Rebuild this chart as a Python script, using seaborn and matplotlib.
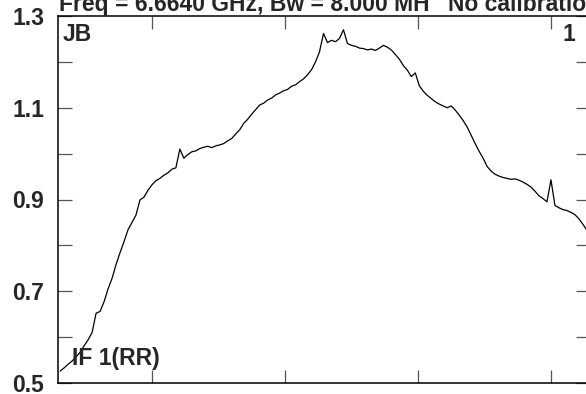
import numpy as np
import pandas as pd
import matplotlib
matplotlib.use("Agg")
import matplotlib.pyplot as plt
import seaborn as sns

# spectrum amplitude, one value every 6 channels starting at channel 62
amplitude = [
    0.526, 0.533, 0.541, 0.548, 0.557, 0.567, 0.581, 0.594, 0.610, 0.652,
    0.656, 0.677, 0.705, 0.728, 0.758, 0.784, 0.808, 0.834, 0.850, 0.866,
    0.899, 0.905, 0.920, 0.932, 0.941, 0.946, 0.953, 0.958, 0.966, 0.969,
    1.010, 0.990, 0.998, 1.004, 1.006, 1.011, 1.014, 1.016, 1.013, 1.017,
    1.019, 1.022, 1.028, 1.033, 1.043, 1.052, 1.066, 1.075, 1.086, 1.096,
    1.106, 1.110, 1.117, 1.121, 1.128, 1.132, 1.137, 1.140, 1.147, 1.150,
    1.157, 1.163, 1.172, 1.183, 1.200, 1.222, 1.262, 1.242, 1.247, 1.244,
    1.251, 1.270, 1.240, 1.236, 1.234, 1.230, 1.229, 1.226, 1.228, 1.225,
    1.230, 1.236, 1.232, 1.226, 1.216, 1.206, 1.192, 1.182, 1.168, 1.176,
    1.148, 1.136, 1.127, 1.120, 1.113, 1.108, 1.104, 1.100, 1.104, 1.095,
    1.084, 1.072, 1.058, 1.040, 1.022, 1.005, 0.990, 0.972, 0.962, 0.955,
    0.951, 0.948, 0.946, 0.944, 0.945, 0.942, 0.938, 0.933, 0.927, 0.918,
    0.908, 0.902, 0.895, 0.943, 0.887, 0.882, 0.878, 0.876, 0.872, 0.867,
    0.858, 0.846, 0.833, 0.825,
]
channels = 62 + 6 * np.arange(len(amplitude))

y_ticks = [0.5, 0.6, 0.7, 0.8, 0.9, 1.0, 1.1, 1.2, 1.3]
y_labels = ["0.5", "", "0.7", "", "0.9", "", "1.1", "", "1.3"]
x_ticks = [200, 400, 600, 800]

title_left = "Freq = 6.6640 GHz, Bw = 8.000 MH"
title_right = "No calibration"

df = pd.DataFrame({"channel": channels, "amp": amplitude})

sns.set_style("white")
plt.rcParams["font.family"] = ["Liberation Sans", "DejaVu Sans"]
plt.rcParams["font.weight"] = "bold"
FS = 16.5

fig = plt.figure(figsize=(5.86, 3.94), dpi=100)
ax = fig.add_axes([57.5 / 586, 11 / 394, 532.5 / 586, 367 / 394])

sns.lineplot(data=df, x="channel", y="amp", ax=ax, color="black",
             linewidth=0.9, estimator=None, sort=False)

ax.set_xlim(58, 858.7)
ax.set_ylim(0.5, 1.3)
ax.set_xlabel("")
ax.set_ylabel("")
ax.set_yticks(y_ticks)
ax.set_yticklabels(y_labels, fontsize=FS, fontweight="bold")
ax.set_xticks(x_ticks)
ax.set_xticklabels([])
ax.tick_params(axis="y", direction="in", length=10, width=0.9, color="#555555",
               left=True, right=True, pad=9.5)
ax.tick_params(axis="x", direction="in", length=9.5, width=0.9, color="#555555",
               bottom=True, top=True)
for side in ["left", "bottom", "top", "right"]:
    ax.spines[side].set_visible(True)
    ax.spines[side].set_color("black")
    ax.spines[side].set_linewidth(1.1)

ax.text(0.010, 0.932, "JB", transform=ax.transAxes, fontsize=FS,
        fontweight="bold", va="baseline", ha="left")
ax.text(0.949, 0.932, "1", transform=ax.transAxes, fontsize=FS,
        fontweight="bold", va="baseline", ha="left")
ax.text(0.027, 0.049, "IF 1(RR)", transform=ax.transAxes, fontsize=FS,
        fontweight="bold", va="baseline", ha="left")

# title sits at the very top edge, partly cut off as in the original plot
fig.text(59 / 586, 383 / 394, title_left, fontsize=FS, fontweight="bold",
         va="baseline", ha="left")
fig.text(448 / 586, 383 / 394, title_right, fontsize=FS, fontweight="bold",
         va="baseline", ha="left")

fig.savefig("out.png", dpi=100)
